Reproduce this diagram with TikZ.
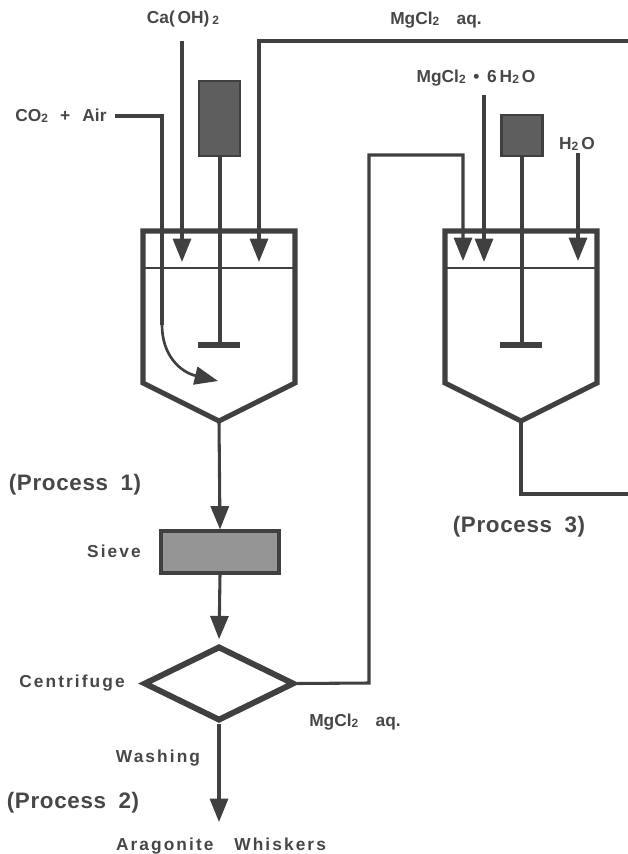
\documentclass[tikz,border=0pt]{standalone}
\usepackage{fontspec}
\setmainfont{Liberation Sans}
\usetikzlibrary{arrows.meta,shapes.geometric}
\definecolor{ink}{HTML}{404040}
\definecolor{motorgray}{HTML}{5E5E5E}
\definecolor{sievegray}{HTML}{959595}
\newfontfamily\labelfont{Liberation Sans}
\newfontfamily\spreadfont{Liberation Sans}[LetterSpace=12]
\newfontfamily\bigfont{Liberation Sans}[LetterSpace=3]
\newcommand{\sbs}[1]{\raisebox{-.15ex}{\fontsize{9}{10}\selectfont\labelfont\bfseries #1}}
\tikzset{
  sc/.style={x=.75pt,y=-.75pt,line join=miter},
  pipe/.style={ink,line width=2.3pt},
  feed/.style={pipe,-{Triangle[length=17.5pt,width=13.5pt]}},
  wall/.style={ink,line width=3.8pt},
  motor/.style={draw=ink,fill=motorgray,line width=1.8pt,minimum width=30.5pt,inner sep=0pt},
  lbl/.style={text=black!72,inner sep=0pt,font=\fontsize{13}{15}\selectfont\labelfont\bfseries},
  big/.style={lbl,font=\fontsize{16.8}{19}\selectfont\bigfont\bfseries},
  wide/.style={lbl,font=\fontsize{13}{15}\selectfont\spreadfont\bfseries}
}
\begin{document}
\begin{tikzpicture}[sc]
  \useasboundingbox (0,0) rectangle (628,854);
  % tanks
  \foreach \n/\c in {one/219,two/521}{
    \draw[wall] (\c-76,231)--(\c-76,383)--(\c,421)--(\c+76,383)--(\c+76,231)--cycle;
    \draw[ink,line width=1.8pt] (\c-76,268)--(\c+76,268);
    \coordinate (apex\n) at (\c,421);
    \coordinate (foot\n) at (\c,345);
    \draw[wall] (\c-21,345)--(\c+21,345);
  }
  \node[motor,minimum height=56pt] (motorone) at (219.5,118.5) {};
  \node[motor,minimum height=30.5pt] (motortwo) at (522,135.5) {};
  \draw[pipe,line width=3pt] (motorone.south)--(motorone.south|-footone);
  \draw[pipe,line width=3pt] (motortwo.south)--(motortwo.south|-foottwo);
  \node[draw=ink,fill=sievegray,line width=2.8pt,minimum width=88pt,minimum height=31pt,inner sep=0pt] (sieve) at (220,552) {};
  \node[diamond,draw=ink,line width=4.4pt,aspect=2,minimum width=113pt,minimum height=56pt,inner sep=0pt] (centrifuge) at (219,683.5) {};
  % labels
  \node[lbl] (caoh) at (183,19) {Ca(\,OH)\,\sbs{2}};
  \node[lbl] (mgtop) at (436,20) {MgCl\sbs{2}\hspace{1em}aq.};
  \node[lbl] (mghyd) at (476,78) {MgCl\sbs{2} \,•\, 6\,H\sbs{2}\,O};
  \node[lbl] (water) at (577,144) {H\sbs{2}\,O};
  \node[lbl] (gas) at (61,116) {CO\sbs{2}\hspace{.7em}+\hspace{.7em}Air};
  \node[big] (procone) at (75,485) {(Process\hspace{.25em} 1)};
  \node[big] (proctwo) at (73,803) {(Process\hspace{.25em} 2)};
  \node[big] (procthree) at (519,527) {(Process\hspace{.25em} 3)};
  \node[wide] (sievelbl) at (114,551) {Sieve};
  \node[wide] (centlbl) at (72,683) {Centrifuge};
  \node[wide] (washlbl) at (158,758) {Washing};
  \node[lbl] (mglow) at (355,722) {MgCl\sbs{2}\hspace{1em}aq.};
  \node[wide] (product) at (221,846) {Aragonite\hspace{.8em} Whiskers};
  % feeds into the tanks
  \coordinate (topleft) at (182,41);
  \coordinate (tipca) at (182,262);
  \coordinate (topright) at (259,41);
  \coordinate (tipmg) at (259,262);
  \coordinate (edgetop) at (628,41);
  \coordinate (gasstart) at (115,116);
  \coordinate (gasbend) at (162,116);
  \coordinate (gaslow) at (162,325);
  \coordinate (gastip) at (218,381);
  \draw[feed] (topleft)--(tipca);
  \draw[feed] (edgetop)--(topright)--(tipmg);
  \draw[pipe] (gasstart)--(gasbend)--(gaslow);
  \draw[pipe,line width=2pt,-{Triangle[length=17.5pt,width=13.5pt]}] (gaslow) .. controls (162,355) and (180,372) .. (gastip);
  \coordinate (tophyd) at (484,95);
  \coordinate (tiphyd) at (484,262);
  \coordinate (topwater) at (578,153);
  \coordinate (tipwater) at (578,261);
  \coordinate (riser) at (369,683);
  \coordinate (risertop) at (369,155);
  \coordinate (backtop) at (463,155);
  \coordinate (tipback) at (463,261);
  \draw[feed] (tophyd)--(tiphyd);
  \draw[feed] (topwater)--(tipwater);
  \draw[feed] (centrifuge.east)--(riser)--(risertop)--(backtop)--(tipback);
  % outflows
  \coordinate (bendtwo) at (521,494);
  \coordinate (edgetwo) at (628,494);
  \coordinate (tipout) at (219,822);
  \draw[pipe] (apextwo)--(bendtwo)--(edgetwo);
  \draw[feed] (apexone)--(sieve.north);
  \draw[feed,shorten >=3pt] (sieve.south)--(centrifuge.north);
  \draw[feed] (centrifuge.south)--(tipout);
\end{tikzpicture}
\end{document}
